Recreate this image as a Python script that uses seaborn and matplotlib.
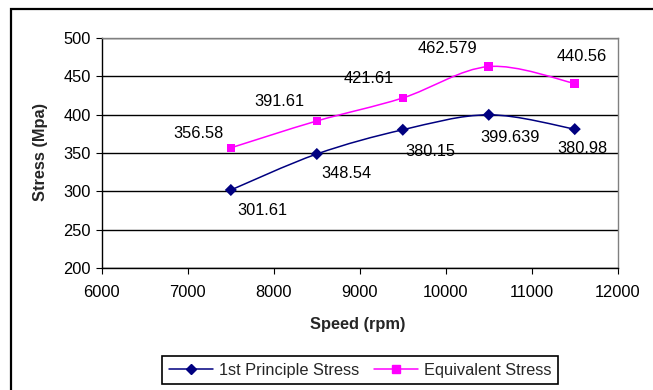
import numpy as np
import pandas as pd
import matplotlib
matplotlib.use("Agg")
import matplotlib.pyplot as plt
import seaborn as sns
from matplotlib.path import Path
from matplotlib.patches import PathPatch, Rectangle
from matplotlib.lines import Line2D

# ---- data ----
speed = [7500, 8500, 9500, 10500, 11500]
principal = [301.61, 348.54, 380.15, 399.639, 380.98]
equivalent = [356.58, 391.61, 421.61, 462.579, 440.56]
series_names = ["1st Principle Stress", "Equivalent Stress"]
x_ticks = [6000, 7000, 8000, 9000, 10000, 11000, 12000]
y_ticks = [200, 250, 300, 350, 400, 450, 500]

# label offsets in pixels (dx, dy; dy positive = up)
off_principal = [(31, -21), (30, -20), (28, -22), (21, -23), (8, -19)]
off_equivalent = [(-32, 14), (-37, 19), (-34, 19), (-41, 18), (7, 27)]

navy = "#000080"
magenta = "#FF00FF"
FS = 11.8

sns.set_theme(style="white")
plt.rcParams["font.family"] = ["Liberation Sans", "DejaVu Sans"]

fig = plt.figure(figsize=(6.53, 3.9), dpi=100)
ax = fig.add_axes([0.156, 0.313, 0.79, 0.59])

df = pd.DataFrame({
    "speed": speed * 2,
    "stress": principal + equivalent,
    "series": [series_names[0]] * len(speed) + [series_names[1]] * len(speed),
})


def smooth_path(xs, ys):
    pts = np.column_stack([xs, ys]).astype(float)
    n = len(pts)
    verts = [pts[0]]
    codes = [Path.MOVETO]
    for i in range(n - 1):
        p0 = pts[i - 1] if i > 0 else pts[i]
        p1 = pts[i]
        p2 = pts[i + 1]
        p3 = pts[i + 2] if i + 2 < n else pts[i + 1]
        c1 = p1 + (p2 - p0) / 6.0
        c2 = p2 - (p3 - p1) / 6.0
        verts += [c1, c2, p2]
        codes += [Path.CURVE4] * 3
    return Path(verts, codes)


for ys, col in [(principal, navy), (equivalent, magenta)]:
    ax.add_patch(PathPatch(smooth_path(speed, ys), facecolor="none",
                           edgecolor=col, lw=1.1, zorder=3))

sns.scatterplot(data=df, x="speed", y="stress", hue="series", style="series",
                palette={series_names[0]: navy, series_names[1]: magenta},
                markers={series_names[0]: "D", series_names[1]: "s"},
                s=38, edgecolor="none", legend=False, ax=ax, zorder=4)

for xs, ys, offs in [(speed, principal, off_principal), (speed, equivalent, off_equivalent)]:
    for x, y, (dx, dy) in zip(xs, ys, offs):
        ax.annotate(f"{y:g}", (x, y), xytext=(dx * 0.72, dy * 0.72),
                    textcoords="offset points", ha="center", va="center",
                    fontsize=FS, color="black")

ax.set_xlim(6000, 12000)
ax.set_ylim(200, 500)
ax.set_xticks(x_ticks)
ax.set_yticks(y_ticks)
ax.set_xticklabels([str(t) for t in x_ticks])
ax.set_yticklabels([str(t) for t in y_ticks])
ax.yaxis.grid(True, color="black", lw=1)
ax.set_axisbelow(True)
ax.set_xlabel("")
ax.set_ylabel("")
for s in ["left", "bottom"]:
    ax.spines[s].set_color("black")
    ax.spines[s].set_linewidth(1)
for s in ["top", "right"]:
    ax.spines[s].set_color("#808080")
    ax.spines[s].set_linewidth(1)
ax.tick_params(axis="both", direction="out", length=4, width=0.8, color="black",
               labelsize=FS, labelcolor="black", left=True, bottom=True)
ax.tick_params(axis="x", pad=8)
ax.tick_params(axis="y", pad=4)

fig.text(358 / 653, 1 - 325 / 390, "Speed (rpm)", ha="center", va="center",
         fontsize=FS, fontweight="bold")
fig.text(40 / 653, 1 - 152 / 390, "Stress (Mpa)", ha="center", va="center",
         fontsize=FS, fontweight="bold", rotation=90)

handles = [
    Line2D([], [], color=navy, marker="D", markersize=5.5, lw=1.1),
    Line2D([], [], color=magenta, marker="s", markersize=5.5, lw=1.1),
]
leg = fig.legend(handles, series_names, loc="center", ncol=2,
                 bbox_to_anchor=(360 / 653, 1 - 370 / 390), frameon=True,
                 fancybox=False, edgecolor="black", framealpha=1, fontsize=FS,
                 handlelength=2.7, columnspacing=0.9, handletextpad=0.35,
                 borderpad=0.4)
leg.get_frame().set_linewidth(1.2)

fig.patches.append(Rectangle((11 / 653, -0.1), 1.2, 1.1 - 9 / 390,
                             transform=fig.transFigure, fill=False,
                             edgecolor="black", lw=1.6))

fig.savefig("out.png", dpi=100)
